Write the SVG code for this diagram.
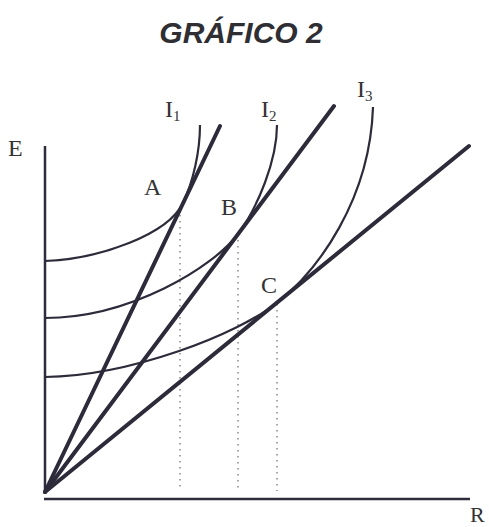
<svg xmlns="http://www.w3.org/2000/svg" width="489" height="527" viewBox="0 0 489 527">
<style>
.title{font-family:"Liberation Sans",Arial,sans-serif;font-weight:bold;font-style:italic;font-size:30px;fill:#2e2e33}
.lbl{font-family:"Liberation Serif","Times New Roman",serif;font-size:24px;fill:#333}
.sub{font-family:"Liberation Serif","Times New Roman",serif;font-size:15px;fill:#333}
.axis{stroke:#2d2b3c;stroke-width:2.5;fill:none}
.ray{stroke:#2d2a3a;stroke-width:4;stroke-linecap:round;fill:none}
.curve{stroke:#2d2a3a;stroke-width:2.2;fill:none}
.dot{stroke:#777;stroke-width:1.3;stroke-dasharray:1.5 4.5;fill:none}
</style>
<rect width="489" height="527" fill="#fff"/>
<text id="title" class="title" x="241" y="43" text-anchor="middle">GRÁFICO 2</text>
<g id="axes">
<line class="axis" x1="45" y1="146" x2="45" y2="493"/>
<line class="axis" x1="44" y1="499" x2="470" y2="499"/>
<text class="lbl" x="8" y="156">E</text>
<text class="lbl" x="470" y="522" style="font-size:22px">R</text>
</g>
<g id="connectors">
<line class="dot" x1="180" y1="209" x2="180" y2="491"/>
<line class="dot" x1="238" y1="234" x2="238" y2="491"/>
<line class="dot" x1="277" y1="304" x2="277" y2="491"/>
<line class="ray" x1="45" y1="492" x2="220" y2="126"/>
<line class="ray" x1="45" y1="492" x2="334" y2="106"/>
<line class="ray" x1="45" y1="492" x2="469" y2="146"/>
</g>
<g id="I1">
<path class="curve" d="M45,261 C100,259 168,234.4 183,203 C193,182 200,152 200,125"/>
<text class="lbl" x="165" y="117">I</text><text class="sub" x="173" y="121">1</text>
</g>
<g id="I2">
<path class="curve" d="M45,318 C130,318 213,267.4 238,234 C258,207 277,160 277,125"/>
<text class="lbl" x="261" y="117">I</text><text class="sub" x="269" y="121">2</text>
</g>
<g id="I3">
<path class="curve" d="M45,377 C130,376 238,334.4 278,302 C318,270 370,200 373,107"/>
<text class="lbl" x="357" y="97">I</text><text class="sub" x="365" y="101">3</text>
</g>
<g id="A"><text class="lbl" x="144" y="195">A</text></g>
<g id="B"><text class="lbl" x="221" y="215">B</text></g>
<g id="C"><text class="lbl" x="261" y="293">C</text></g>
</svg>
